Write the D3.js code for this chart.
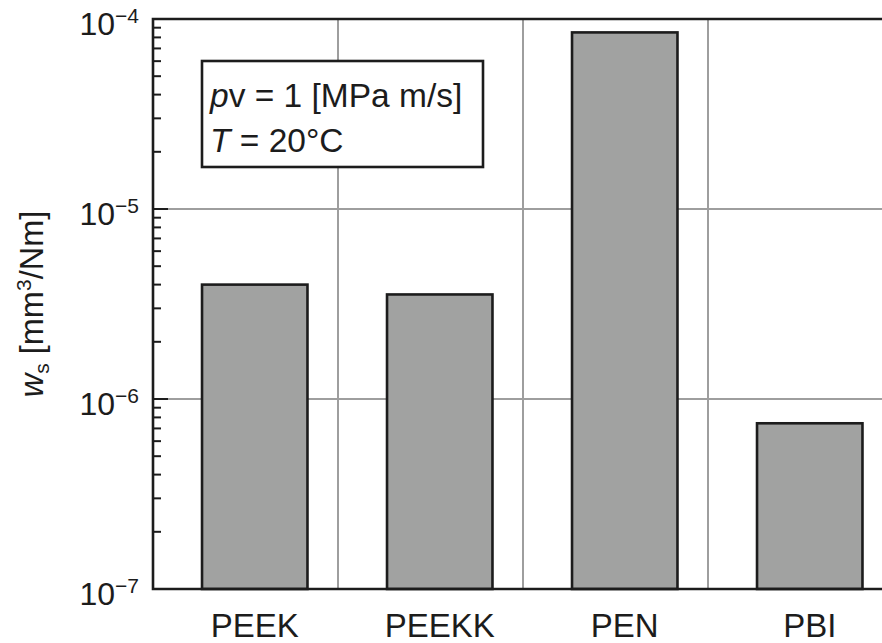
<!DOCTYPE html>
<html>
<head>
<meta charset="utf-8">
<script src="https://cdn.jsdelivr.net/npm/d3@7"></script>
<style>
  html, body { margin: 0; padding: 0; background: #fff; }
  svg { display: block; font-family: "Liberation Sans", Arial, Helvetica, sans-serif; }
</style>
</head>
<body>
<svg id="chart" width="882" height="643"></svg>
<script>
// ---- data ----
const categories = ["PEEK", "PEEKK", "PEN", "PBI"];
const positions = [1, 2, 3, 4];
const wearRates = [4.0e-6, 3.55e-6, 8.5e-5, 7.45e-7];
const yTickValues = [1e-7, 1e-6, 1e-5, 1e-4];
const yTickExponents = ["−7", "−6", "−5", "−4"];
const xGridValues = [1.45, 2.45, 3.45];
const legendLines = [
  [{t: "p", i: true}, {t: "v = 1 [MPa m/s]", i: false}],
  [{t: "T", i: true}, {t: " = 20°C", i: false}]
];

// ---- layout ----
const svg = d3.select("#chart");
const pL = 153, pT = 19, pB = 589, pR = 893;
const x = d3.scaleLinear().domain([0.45, 4.45]).range([pL, pR]);
const y = d3.scaleLog().domain([1e-7, 1e-4]).range([pB, pT]);
const barW = 0.57; // in data units
const ink = "#1c1c1c";

// gridlines
const grid = svg.append("g");
grid.selectAll("line.v").data(xGridValues).join("line")
  .attr("x1", d => x(d)).attr("x2", d => x(d))
  .attr("y1", pT).attr("y2", pB)
  .attr("stroke", "#9e9e9e").attr("stroke-width", 2);
grid.selectAll("line.h").data([1e-6, 1e-5]).join("line")
  .attr("x1", pL).attr("x2", pR)
  .attr("y1", d => y(d)).attr("y2", d => y(d))
  .attr("stroke", "#9e9e9e").attr("stroke-width", 2);

// bars
svg.append("g").selectAll("rect").data(wearRates).join("rect")
  .attr("x", (d, i) => x(positions[i] - barW / 2))
  .attr("width", (d, i) => x(positions[i] + barW / 2) - x(positions[i] - barW / 2))
  .attr("y", d => y(d))
  .attr("height", d => pB - y(d))
  .attr("fill", "#a1a2a1")
  .attr("stroke", ink).attr("stroke-width", 2.6);

// left axis ticks (inward)
const minor = [];
for (let e = -7; e < -4; e++) for (let m = 2; m <= 9; m++) minor.push(m * Math.pow(10, e));
const ax = svg.append("g");
ax.selectAll("line.minor").data(minor).join("line")
  .attr("x1", pL).attr("x2", pL + 8)
  .attr("y1", d => y(d)).attr("y2", d => y(d))
  .attr("stroke", ink).attr("stroke-width", 2);
ax.selectAll("line.major").data(yTickValues).join("line")
  .attr("x1", pL).attr("x2", pL + 15)
  .attr("y1", d => y(d)).attr("y2", d => y(d))
  .attr("stroke", ink).attr("stroke-width", 2);

// frame
svg.append("path")
  .attr("d", `M${pR},${pT}H${pL}V${pB}H${pR}`)
  .attr("fill", "none").attr("stroke", ink).attr("stroke-width", 2.6);

// y tick labels
const yl = svg.append("g").selectAll("text").data(yTickValues).join("text")
  .attr("x", 139).attr("y", d => y(d) + 16)
  .attr("text-anchor", "end").attr("fill", ink).attr("font-size", 32);
yl.append("tspan").text("10");
yl.append("tspan").attr("font-size", 21).attr("dy", -12).text((d, i) => yTickExponents[i]);

// x labels
svg.append("g").selectAll("text").data(categories).join("text")
  .attr("x", (d, i) => x(positions[i]))
  .attr("y", 637)
  .attr("text-anchor", "middle").attr("fill", ink).attr("font-size", 33)
  .text(d => d);

// y axis title
const yt = svg.append("text")
  .attr("transform", "translate(43,304) rotate(-90)")
  .attr("text-anchor", "middle").attr("fill", ink).attr("font-size", 32.5);
yt.append("tspan").attr("font-style", "italic").text("w");
yt.append("tspan").attr("font-size", 21).attr("dy", 6).text("s");
yt.append("tspan").attr("dy", -6).text(" [mm");
yt.append("tspan").attr("font-size", 21).attr("dy", -12).text("3");
yt.append("tspan").attr("dy", 12).text("/Nm]");

// legend box
svg.append("rect")
  .attr("x", 202).attr("y", 61).attr("width", 281).attr("height", 106)
  .attr("fill", "#fff").attr("stroke", ink).attr("stroke-width", 2.6);
const lg = svg.append("g").selectAll("text").data(legendLines).join("text")
  .attr("x", 210).attr("y", (d, i) => 107 + i * 45)
  .attr("fill", ink).attr("font-size", 33.5);
lg.selectAll("tspan").data(d => d).join("tspan")
  .attr("font-style", d => d.i ? "italic" : "normal")
  .text(d => d.t);
</script>
</body>
</html>
